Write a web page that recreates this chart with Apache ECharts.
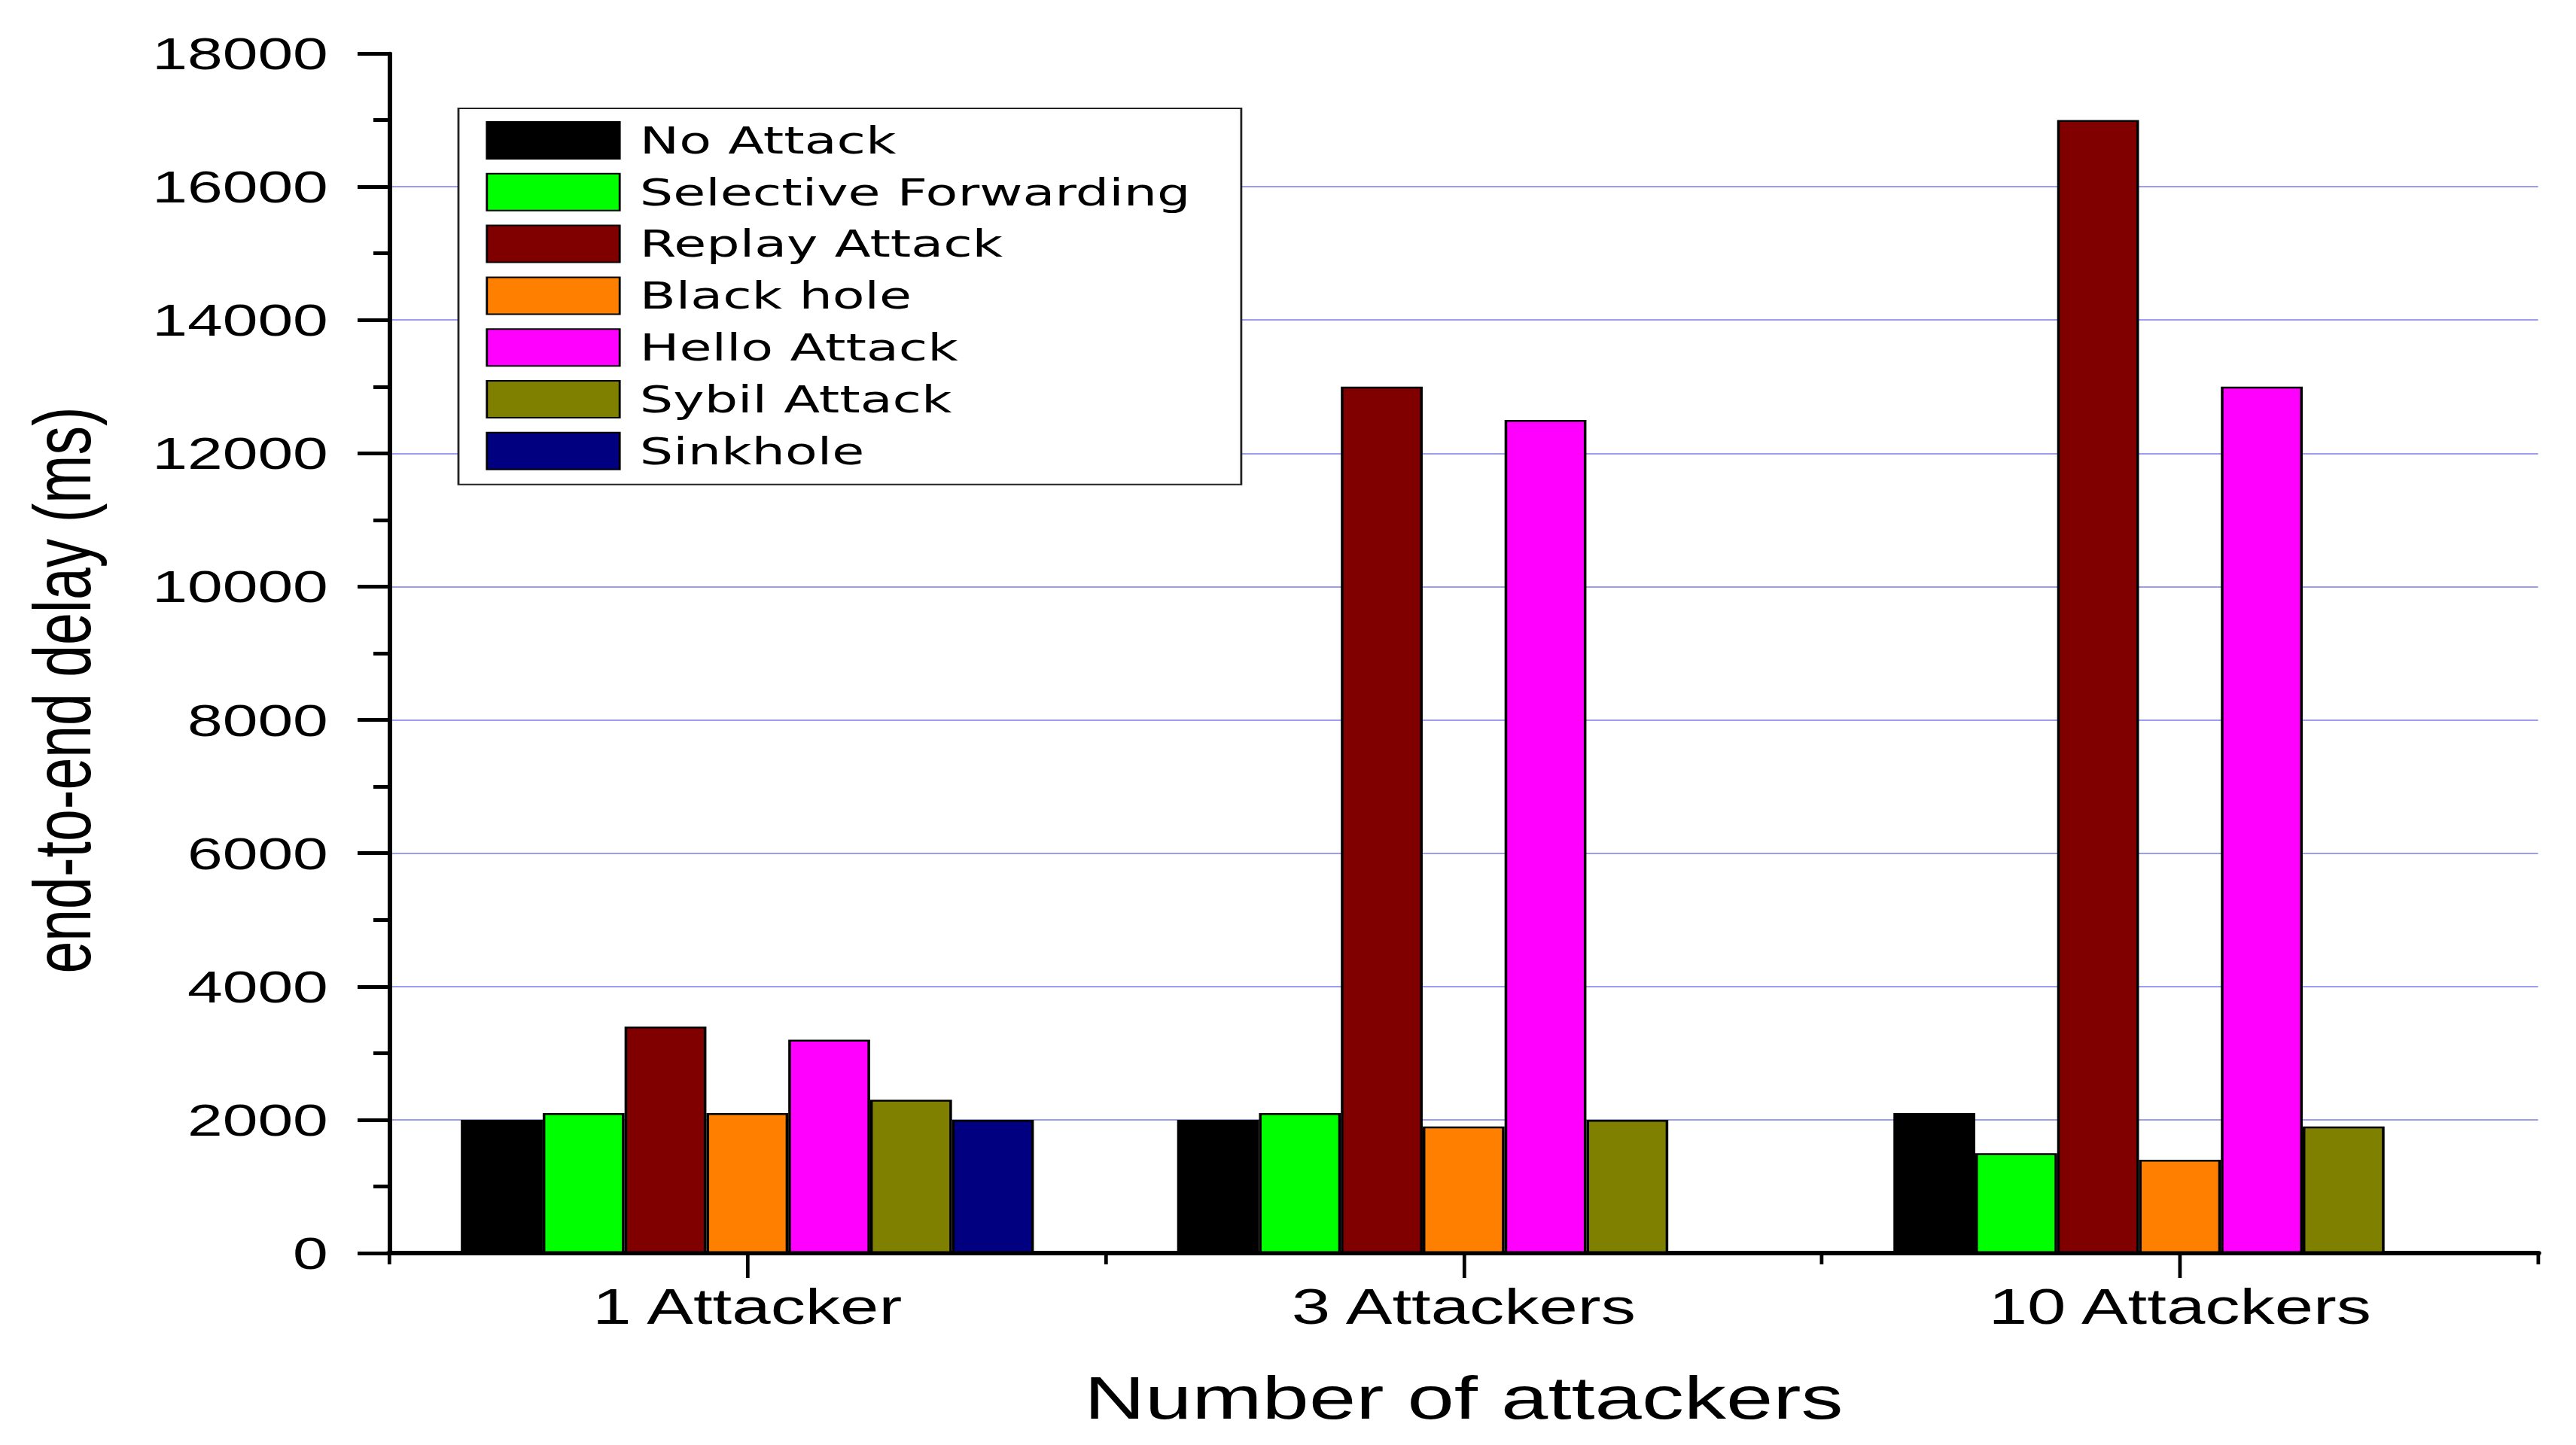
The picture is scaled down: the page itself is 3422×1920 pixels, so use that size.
<!DOCTYPE html>
<html>
<head>
<meta charset="utf-8">
<script src="https://cdn.jsdelivr.net/npm/echarts@6/dist/echarts.min.js"></script>
<style>
  html, body { margin: 0; padding: 0; background: #ffffff; overflow: hidden; }
  #chart { width: 2444.29px; height: 1920px; transform: scaleX(1.4); transform-origin: 0 0; }
</style>
</head>
<body>
<div id="chart"></div>
<script>
const categories = ['1 Attacker', '3 Attackers', '10 Attackers'];
const seriesNames = ['No Attack', 'Selective Forwarding', 'Replay Attack', 'Black hole', 'Hello Attack', 'Sybil Attack', 'Sinkhole'];
const noAttack = [2000, 2000, 2100];
const selectiveForwarding = [2100, 2100, 1500];
const replayAttack = [3400, 13000, 17000];
const blackHole = [2100, 1900, 1400];
const helloAttack = [3200, 12500, 13000];
const sybilAttack = [2300, 2000, 1900];
const sinkhole = [2000, null, null];
const colors = ['#000000', '#00ff00', '#800000', '#ff8000', '#ff00ff', '#808000', '#000080'];
const yMin = 0, yMax = 18000, yInterval = 2000;

const allValues = [noAttack, selectiveForwarding, replayAttack, blackHole, helloAttack, sybilAttack, sinkhole];
const FONT = 'Liberation Sans, Arial, sans-serif';

const chart = echarts.init(document.getElementById('chart'), null, { renderer: 'svg' });
chart.setOption({
  backgroundColor: '#ffffff',
  animation: false,
  grid: { left: 369.3, right: 35.7, top: 71, bottom: 255, containLabel: false },
  legend: {
    orient: 'vertical',
    left: 435,
    top: 144,
    data: seriesNames,
    icon: 'rect',
    itemWidth: 126,
    itemHeight: 49,
    itemGap: 17.8,
    padding: [17, 48, 19, 26],
    backgroundColor: '#ffffff',
    borderColor: '#222222',
    borderWidth: 2,
    borderRadius: 0,
    selectedMode: false,
    textStyle: { fontFamily: 'DejaVu Sans', fontSize: 50, color: '#000000', padding: [0, 0, 0, 14] }
  },
  xAxis: [
    {
      type: 'category',
      data: categories,
      position: 'bottom',
      axisLine: { show: true, lineStyle: { color: '#000', width: 6 } },
      axisTick: { show: true, alignWithLabel: true, length: 33, lineStyle: { color: '#000', width: 3.4 } },
      axisLabel: { fontFamily: FONT, fontSize: 66, color: '#000', margin: 38 },
      splitLine: { show: false },
      name: 'Number of attackers',
      nameLocation: 'middle',
      nameGap: 152,
      nameTextStyle: { fontFamily: FONT, fontSize: 80, color: '#000' }
    },
    {
      type: 'category',
      data: categories,
      position: 'bottom',
      axisLine: { show: false },
      axisTick: { show: true, alignWithLabel: false, length: 15, lineStyle: { color: '#000', width: 3.4 } },
      axisLabel: { show: false },
      splitLine: { show: false }
    }
  ],
  yAxis: {
    type: 'value',
    min: yMin,
    max: yMax,
    interval: yInterval,
    axisLine: { show: true, lineStyle: { color: '#000', width: 4.3 } },
    axisTick: { show: true, length: 30, lineStyle: { color: '#000', width: 5 } },
    minorTick: { show: true, splitNumber: 2, length: 15, lineStyle: { color: '#000', width: 5 } },
    axisLabel: { fontFamily: FONT, fontSize: 60, color: '#000', margin: 58, formatter: (v) => String(v) },
    splitLine: { show: true, showMinLine: false, showMaxLine: false, lineStyle: { color: '#9c9cf0', width: 2 } },
    name: 'end-to-end delay (ms)',
    nameLocation: 'middle',
    nameRotate: 90,
    nameGap: 272,
    nameTextStyle: { fontFamily: FONT, fontSize: 77, color: '#000', padding: [0, 98, 0, 0] }
  },
  series: seriesNames.map((name, i) => ({
    name: name,
    type: 'bar',
    data: allValues[i],
    barGap: '0%',
    barCategoryGap: '20%',
    itemStyle: { color: colors[i], borderColor: '#000', borderWidth: 2.5 }
  }))
});
</script>
</body>
</html>
